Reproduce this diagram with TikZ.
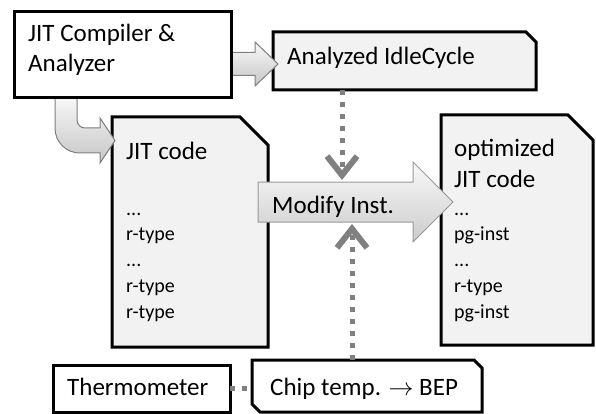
\documentclass[tikz,border=0pt]{standalone}
\usepackage{fontspec}
\setmainfont{Carlito}
\usetikzlibrary{arrows.meta,calc}
\definecolor{docfill}{HTML}{F2F2F2}
\definecolor{dotgray}{HTML}{808080}
\definecolor{arrline}{HTML}{7F7F7F}
\begin{document}
\begin{tikzpicture}[x=1pt,y=-1pt,
  area/.style={inner sep=0pt, outer sep=0pt, draw=none},
  plainbox/.style={draw=black, line width=3pt, fill=white, inner sep=0pt, outer sep=0pt},
  outline/.style={draw=black, line width=3pt},
  big/.style={font=\fontsize{25}{30}\selectfont, inner sep=0pt, anchor=base west},
  small/.style={font=\fontsize{20}{26}\selectfont, inner sep=0pt, anchor=base west},
  blockarrow/.style={draw=arrline, line width=1pt, top color=gray!5, bottom color=gray!45},
  modarrow/.style={draw=arrline!80, line width=1pt, top color=gray!5, bottom color=gray!40},
  dotconn/.style={draw=dotgray, line width=5pt, dash pattern=on 5pt off 7pt},
  chevron/.style={-{Straight Barb[length=19pt, width=30pt, line width=6pt]}}
]
\useasboundingbox (0,0) rectangle (596,414);

% ---- boxes (except compiler) ----
\node[area, minimum width=263pt, minimum height=58pt] (idle) at (404.5,61) {};
\draw[outline, fill=docfill] (idle.north west) -- ([xshift=-10pt]idle.north east) -- ([yshift=-10pt]idle.north east) -- (idle.south east) -- (idle.south west) -- cycle;

\node[area, minimum width=156pt, minimum height=230pt] (jit) at (190,232) {};
\draw[outline, fill=docfill] (jit.north west) -- ([xshift=-28pt]jit.north east) -- ([yshift=-28pt]jit.north east) -- (jit.south east) -- (jit.south west) -- cycle;

\node[area, minimum width=152pt, minimum height=230pt] (opt) at (517,230) {};
\draw[outline, fill=docfill] (opt.north west) -- ([xshift=-25pt]opt.north east) -- ([yshift=-25pt]opt.north east) -- (opt.south east) -- (opt.south west) -- cycle;

\node[plainbox, minimum width=177pt, minimum height=47pt] (thermo) at (141.5,388.5) {};

\node[area, minimum width=230pt, minimum height=52pt] (chip) at (367,386) {};
\draw[outline, fill=white] (chip.north west) -- ([xshift=-8pt]chip.north east) -- ([yshift=-8pt]chip.north east) -- (chip.south east) -- ([xshift=8pt]chip.south west) -- ([yshift=8pt]chip.south west) -- cycle;

% ---- block arrows from the compiler ----
\coordinate (a1s) at (228,64);
\coordinate (a1t) at ([xshift=5pt]idle.west |- a1s);
\draw[blockarrow] ($(a1s)+(0,-11.5)$) -- ($(a1t)+(-23,-11.5)$) -- ($(a1t)+(-23,-22)$) -- (a1t) -- ($(a1t)+(-23,22)$) -- ($(a1t)+(-23,11.5)$) -- ($(a1s)+(0,11.5)$) -- cycle;

\coordinate (a2s) at (55,96);
\coordinate (a2t) at ([xshift=3pt]jit.west |- 0,140.5);
\draw[blockarrow] (a2s) -- (55,128) .. controls (55,142) and (66,153) .. (80,153) -- ($(a2t)+(-15,12.5)$) -- ($(a2t)+(-15,22.5)$) -- (a2t) -- ($(a2t)+(-15,-22.5)$) -- ($(a2t)+(-15,-12.5)$) -- (85,128) .. controls (80.6,128) and (77,124.4) .. (77,120) -- (77,96) -- cycle;

\node[plainbox, minimum width=217pt, minimum height=86pt] (comp) at (122.5,55) {};

% ---- Modify Inst. arrow ----
\coordinate (ms) at ([xshift=-10pt]jit.east |- 0,202);
\coordinate (mt) at ([xshift=12pt]opt.west |- 0,202);
\draw[modarrow] ($(ms)+(0,-20)$) -- ($(mt)+(-40,-20)$) -- ($(mt)+(-40,-40)$) -- (mt) -- ($(mt)+(-40,40)$) -- ($(mt)+(-40,20)$) -- ($(ms)+(0,20)$) -- cycle;
\coordinate (mtop) at (342,180);
\coordinate (mbot) at (352,224);

% ---- texts ----
\node[big] (compT1) at (28,42) {JIT Compiler \&};
\node[big] (compT2) at (28,72) {Analyzer};
\node[big] (idleT) at (287,65) {Analyzed IdleCycle};
\node[big] (jitT) at (126,160) {JIT code};
\node[small] (jitL1) at (126,215) {...};
\node[small] (jitL2) at (126,240) {r-type};
\node[small] (jitL3) at (126,266) {...};
\node[small] (jitL4) at (126,292) {r-type};
\node[small] (jitL5) at (126,318) {r-type};
\node[big] (optT1) at (454,157) {optimized};
\node[big] (optT2) at (454,187) {JIT code};
\node[small] (optL1) at (454,215) {...};
\node[small] (optL2) at (454,240) {pg-inst};
\node[small] (optL3) at (454,266) {...};
\node[small] (optL4) at (454,292) {r-type};
\node[small] (optL5) at (454,318) {pg-inst};
\node[big] (modify) at (272,213) {Modify Inst.};
\node[big] (thermoT) at (67,395) {Thermometer};
\node[big] (chipT) at (270,395) {Chip temp. $\rightarrow$ BEP};

% ---- dotted connectors ----
\draw[dotconn, chevron] (idle.south -| mtop) -- (mtop);
\draw[dotconn, chevron] (chip.north -| mbot) -- (mbot);
\draw[dotconn] (thermo.east) -- (chip.west |- thermo.east);
\end{tikzpicture}
\end{document}
